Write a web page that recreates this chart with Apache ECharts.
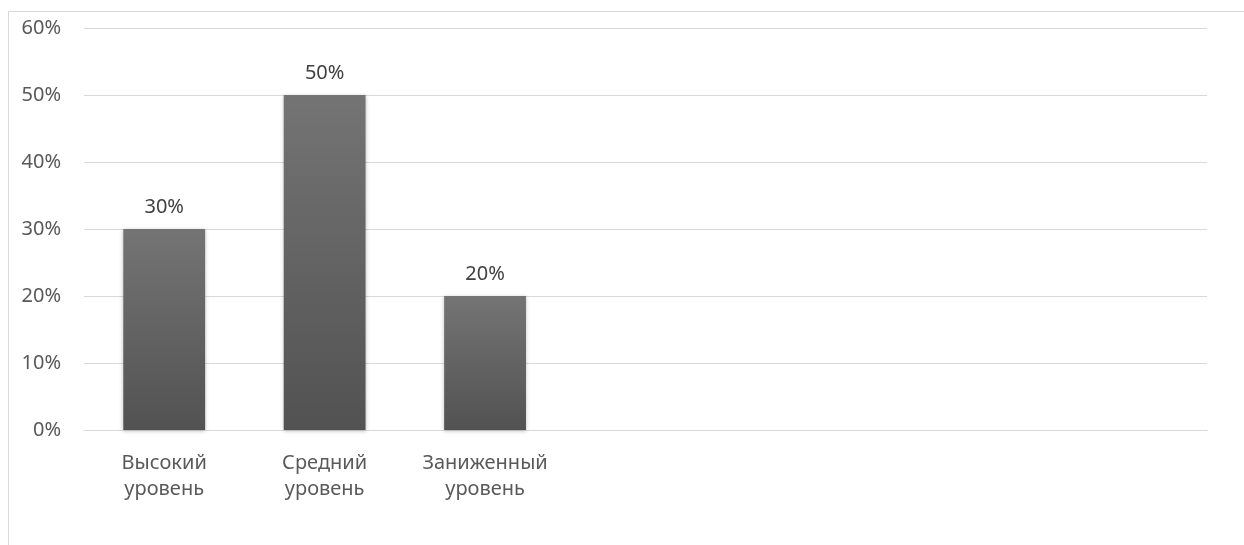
<!DOCTYPE html>
<html><head><meta charset="utf-8">
<script src="https://cdn.jsdelivr.net/npm/echarts@6/dist/echarts.min.js"></script>
<style>html,body{margin:0;padding:0;background:#fff}#c{width:1244px;height:545px}</style>
</head><body><div id="c"></div>
<script>
const categories = ['Высокий\nуровень', 'Средний\nуровень', 'Заниженный\nуровень', '', '', '', ''];
const values = [30, 50, 20, null, null, null, null];
const yTicks = [0, 10, 20, 30, 40, 50, 60];

const chart = echarts.init(document.getElementById('c'));
const font = '"Noto Sans", "Open Sans", sans-serif';
chart.setOption({
  animation: false,
  graphic: [{
    type: 'rect', shape: {x: 8.5, y: 11.5, width: 1300, height: 600},
    style: {fill: 'none', stroke: '#d9d9d9', lineWidth: 1}, silent: true
  }],
  grid: {left: 84, right: 37, top: 28, bottom: 115, containLabel: false},
  xAxis: {
    type: 'category', data: categories,
    axisLine: {lineStyle: {color: '#d9d9d9', width: 1}},
    axisTick: {show: false},
    axisLabel: {color: '#595959', fontSize: 20, fontFamily: font, margin: 20, lineHeight: 26, interval: 0}
  },
  yAxis: {
    type: 'value', min: yTicks[0], max: yTicks[yTicks.length - 1], interval: 10,
    axisLine: {show: false}, axisTick: {show: false},
    splitLine: {lineStyle: {color: '#d9d9d9', width: 1}},
    axisLabel: {color: '#595959', fontSize: 20, fontFamily: font, margin: 23, formatter: v => v + '%'}
  },
  series: [{
    type: 'bar', data: values, barWidth: '51%',
    itemStyle: {
      color: new echarts.graphic.LinearGradient(0, 0, 0, 1, [
        {offset: 0, color: '#747474'}, {offset: 1, color: '#525252'}
      ]),
      shadowColor: 'rgba(0,0,0,0.25)', shadowBlur: 4, shadowOffsetX: 0, shadowOffsetY: 1
    },
    label: {show: true, position: 'top', distance: 12, color: '#404040', fontSize: 20, fontFamily: font,
      formatter: p => p.value + '%'}
  }]
});
</script></body></html>
